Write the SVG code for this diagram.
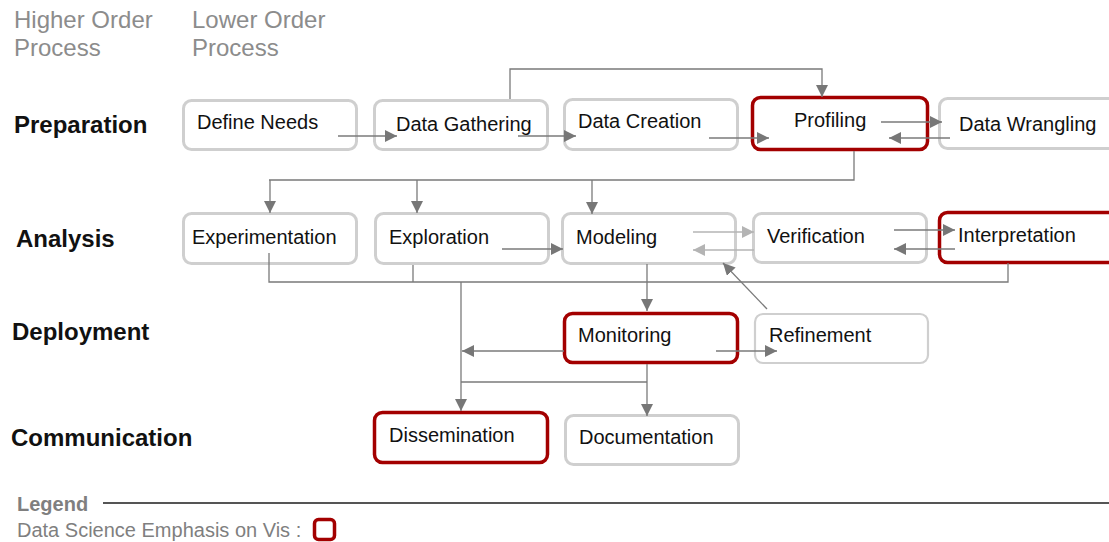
<svg xmlns="http://www.w3.org/2000/svg" width="1109" height="542" viewBox="0 0 1109 542">
  <style>
    .hdr { font-family: "Liberation Sans", Arial, sans-serif; font-size: 24px; fill: #8c8c8c; }
    .phase { font-family: "Liberation Sans", Arial, sans-serif; font-size: 24px; font-weight: bold; fill: #111; }
    .lbl { font-family: "Liberation Sans", Arial, sans-serif; font-size: 20px; fill: #111; }
    .box { fill: #fff; stroke: #cfcfcf; stroke-width: 3; }
    .emph { fill: #fff; stroke: #a30000; stroke-width: 3.5; }
    .wire { fill: none; stroke: #7a7a7a; stroke-width: 1.3; }
    .arr { fill: none; stroke: #7a7a7a; stroke-width: 1.3; marker-end: url(#head); }
    .arrLight { fill: none; stroke: #b4b4b4; stroke-width: 1.3; marker-end: url(#headLight); }
    .legend { font-family: "Liberation Sans", Arial, sans-serif; font-size: 20px; fill: #7f7f7f; }
  </style>
  <defs>
    <marker id="head" markerUnits="userSpaceOnUse" markerWidth="12" markerHeight="12" refX="12" refY="6" orient="auto">
      <path d="M0,0 L12,6 L0,12 z" fill="#777"/>
    </marker>
    <marker id="headLight" markerUnits="userSpaceOnUse" markerWidth="12" markerHeight="12" refX="12" refY="6" orient="auto">
      <path d="M0,0 L12,6 L0,12 z" fill="#b4b4b4"/>
    </marker>
  </defs>

  <rect width="1109" height="542" fill="#fff"/>

  <!-- column headings -->
  <g id="headings">
    <text class="hdr" x="14" y="28">Higher Order</text>
    <text class="hdr" x="14" y="56">Process</text>
    <text class="hdr" x="192" y="28">Lower Order</text>
    <text class="hdr" x="192" y="56">Process</text>
  </g>

  <!-- phase labels -->
  <g id="phases">
    <text class="phase" x="14" y="133">Preparation</text>
    <text class="phase" x="16" y="247">Analysis</text>
    <text class="phase" x="12" y="340">Deployment</text>
    <text class="phase" x="11" y="446">Communication</text>
  </g>

  <!-- preparation nodes -->
  <g id="define-needs">
    <rect class="box" x="183.5" y="100.5" width="173" height="49" rx="8"/>
    <text class="lbl" x="197" y="129">Define Needs</text>
  </g>
  <g id="data-gathering">
    <rect class="box" x="374.5" y="100.5" width="173" height="49" rx="8"/>
    <text class="lbl" x="396" y="131">Data Gathering</text>
  </g>
  <g id="data-creation">
    <rect class="box" x="564.5" y="99.5" width="173" height="50" rx="8"/>
    <text class="lbl" x="578" y="128">Data Creation</text>
  </g>
  <g id="profiling">
    <rect class="emph" x="752.5" y="97.5" width="175" height="52" rx="8"/>
    <text class="lbl" x="794" y="127">Profiling</text>
  </g>
  <g id="data-wrangling">
    <rect class="box" x="939.5" y="98.5" width="190" height="50" rx="8"/>
    <text class="lbl" x="959" y="131">Data Wrangling</text>
  </g>

  <!-- analysis nodes -->
  <g id="experimentation">
    <rect class="box" x="183.5" y="213.5" width="173" height="50" rx="8"/>
    <text class="lbl" x="192" y="244">Experimentation</text>
  </g>
  <g id="exploration">
    <rect class="box" x="375.5" y="213.5" width="173" height="50" rx="8"/>
    <text class="lbl" x="389" y="244">Exploration</text>
  </g>
  <g id="modeling">
    <rect class="box" x="562.5" y="213.5" width="173" height="50" rx="8"/>
    <text class="lbl" x="576" y="244">Modeling</text>
  </g>
  <g id="verification">
    <rect class="box" x="753.5" y="213.5" width="173" height="49" rx="8"/>
    <text class="lbl" x="767" y="243">Verification</text>
  </g>
  <g id="interpretation">
    <rect class="emph" x="939.5" y="212.5" width="190" height="50" rx="8"/>
    <text class="lbl" x="958" y="242">Interpretation</text>
  </g>

  <!-- deployment nodes -->
  <g id="monitoring">
    <rect class="emph" x="564.5" y="313.5" width="173" height="49" rx="8"/>
    <text class="lbl" x="578" y="342">Monitoring</text>
  </g>
  <g id="refinement">
    <rect class="box" x="755" y="314" width="173" height="49" rx="8" style="stroke-width:2.2"/>
    <text class="lbl" x="769" y="342">Refinement</text>
  </g>

  <!-- communication nodes -->
  <g id="dissemination">
    <rect class="emph" x="374.5" y="412.5" width="173" height="50" rx="8"/>
    <text class="lbl" x="389" y="442">Dissemination</text>
  </g>
  <g id="documentation">
    <rect class="box" x="565.5" y="415.5" width="173" height="49" rx="8"/>
    <text class="lbl" x="579" y="444">Documentation</text>
  </g>

  <!-- connectors, drawn over the boxes -->
  <g id="connectors">
    <!-- preparation row -->
    <line class="arr" x1="338" y1="136" x2="397" y2="136"/>
    <line class="arr" x1="518" y1="136" x2="576" y2="136"/>
    <line class="arr" x1="709" y1="138" x2="769" y2="138"/>
    <line class="arr" x1="881" y1="122" x2="942" y2="122"/>
    <line class="arr" x1="950" y1="138" x2="889" y2="138"/>
    <polyline class="arr" points="510,99 510,69 822,69 822,97"/>
    <!-- profiling feeds analysis -->
    <polyline class="wire" points="854,151 854,180 269,180"/>
    <line class="arr" x1="270" y1="180" x2="270" y2="213"/>
    <line class="arr" x1="417" y1="180" x2="417" y2="213"/>
    <line class="arr" x1="592" y1="180" x2="592" y2="214"/>
    <!-- analysis row -->
    <line class="arr" x1="502" y1="249" x2="563" y2="249"/>
    <line class="arrLight" x1="693" y1="232" x2="754" y2="232"/>
    <line class="arrLight" x1="754" y1="250" x2="693" y2="250"/>
    <line class="arr" x1="894" y1="230" x2="955" y2="230"/>
    <line class="arr" x1="955" y1="249" x2="894" y2="249"/>
    <!-- analysis collector -->
    <polyline class="wire" points="269,253 269,282 1008,282 1008,263"/>
    <line class="wire" x1="413" y1="265" x2="413" y2="282"/>
    <line class="arr" x1="461" y1="282" x2="461" y2="411"/>
    <line class="arr" x1="647" y1="264" x2="647" y2="311"/>
    <line class="arr" x1="767" y1="309" x2="723" y2="263"/>
    <!-- deployment row -->
    <line class="arr" x1="716" y1="351" x2="777" y2="351"/>
    <line class="arr" x1="564" y1="351" x2="462" y2="351"/>
    <line class="arr" x1="647" y1="364" x2="647" y2="416"/>
    <line class="wire" x1="461" y1="382" x2="647" y2="382"/>
  </g>

  <!-- legend -->
  <g id="legend">
    <text class="legend" x="17" y="511" font-weight="bold">Legend</text>
    <line x1="103" y1="503" x2="1109" y2="503" stroke="#555" stroke-width="2"/>
    <text class="legend" x="17" y="537">Data Science Emphasis on Vis :</text>
    <rect x="314.5" y="519.5" width="20" height="20" rx="4" fill="#fff" stroke="#a30000" stroke-width="3.5"/>
  </g>
</svg>
